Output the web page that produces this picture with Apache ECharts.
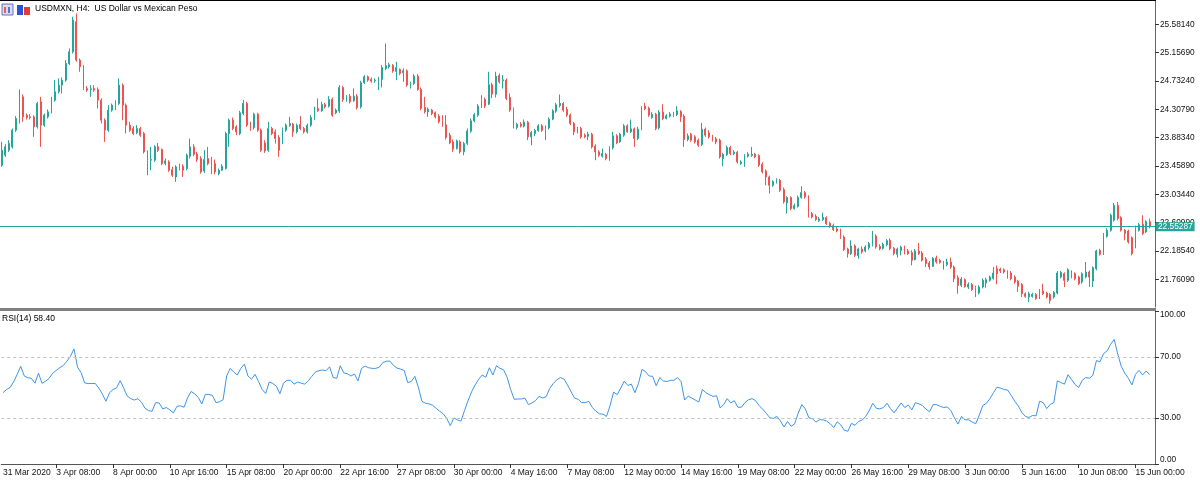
<!DOCTYPE html>
<html><head><meta charset="utf-8">
<script src="https://cdn.jsdelivr.net/npm/echarts@6/dist/echarts.min.js"></script>
<style>html,body{margin:0;padding:0;background:#fff}#c{width:1200px;height:483px}</style>
</head><body><div id="c"></div><script>
const opens=[
23.470,23.620,23.695,23.745,23.995,24.170,24.495,24.220,24.195,24.195,
24.045,24.420,24.070,24.195,24.270,24.445,24.570,24.670,24.745,24.995,
25.170,25.620,25.045,24.945,24.620,24.605,24.620,24.605,24.445,24.145,
23.995,24.295,24.335,24.395,24.670,24.370,24.070,24.020,23.955,24.020,
23.945,23.670,23.545,23.545,23.745,23.705,23.495,23.520,23.405,23.295,
23.420,23.455,23.420,23.605,23.745,23.635,23.570,23.385,23.570,23.505,
23.495,23.345,23.395,23.420,23.945,24.145,24.045,23.945,24.245,24.395,
24.085,24.035,24.235,23.995,23.805,23.695,24.020,23.970,23.885,23.805,
23.995,24.065,24.085,23.970,24.085,24.020,23.970,24.070,24.170,24.320,
24.285,24.380,24.355,24.455,24.255,24.285,24.635,24.445,24.505,24.435,
24.505,24.345,24.705,24.795,24.755,24.735,24.720,24.755,24.920,24.945,
24.965,24.875,24.905,24.855,24.885,24.655,24.695,24.805,24.605,24.335,
24.270,24.295,24.255,24.205,24.135,24.075,23.920,23.820,23.720,23.820,
23.670,23.795,23.980,24.135,24.220,24.345,24.455,24.385,24.675,24.535,
24.815,24.735,24.745,24.485,24.305,24.035,24.085,24.055,24.115,23.895,
23.945,23.990,24.060,24.005,24.030,24.160,24.280,24.365,24.395,24.305,
24.220,24.095,23.970,24.020,23.920,23.905,23.935,23.755,23.670,23.605,
23.635,23.565,23.730,23.910,23.820,23.920,24.060,23.970,24.015,23.870,
24.010,24.355,24.325,24.185,24.235,24.030,24.265,24.170,24.205,24.220,
24.230,24.275,24.205,23.855,23.935,23.895,23.845,23.780,24.010,23.955,
23.905,23.865,23.845,23.570,23.630,23.735,23.640,23.665,23.495,23.505,
23.605,23.615,23.635,23.615,23.485,23.385,23.295,23.170,23.215,23.245,
23.105,22.905,22.985,22.820,22.855,22.985,23.060,22.995,22.745,22.705,
22.640,22.655,22.685,22.600,22.565,22.515,22.495,22.395,22.215,22.145,
22.260,22.115,22.215,22.185,22.235,22.285,22.410,22.255,22.225,22.280,
22.345,22.225,22.135,22.195,22.245,22.185,22.160,22.055,22.185,22.155,
22.065,22.005,21.955,22.080,22.045,21.930,21.980,22.020,21.945,21.785,
21.670,21.755,21.645,21.685,21.635,21.555,21.645,21.705,21.745,21.775,
21.920,21.915,21.905,21.870,21.855,21.795,21.735,21.685,21.545,21.495,
21.505,21.535,21.485,21.585,21.555,21.535,21.495,21.555,21.795,21.845,
21.745,21.870,21.845,21.795,21.720,21.795,21.870,21.735,21.920,22.195,
22.145,22.405,22.495,22.645,22.870,22.685,22.495,22.485,22.385,22.245,
22.495,22.585,22.470,22.625];
const closes=[
23.695,23.745,23.795,23.995,24.170,24.520,24.195,24.185,24.185,24.045,
24.395,24.070,24.220,24.270,24.445,24.570,24.670,24.745,24.995,25.170,
25.645,25.045,24.945,24.620,24.595,24.615,24.595,24.445,24.145,23.995,
24.295,24.370,24.420,24.670,24.370,24.070,23.995,23.945,24.020,23.920,
23.670,23.545,23.555,23.745,23.695,23.495,23.535,23.395,23.320,23.445,
23.460,23.395,23.620,23.745,23.635,23.555,23.370,23.555,23.495,23.355,
23.370,23.395,23.455,23.945,24.145,24.020,23.970,24.255,24.395,24.070,
24.020,24.235,23.995,23.695,23.685,24.020,23.945,23.870,23.695,24.005,
24.070,24.095,23.970,24.070,24.020,23.970,24.070,24.185,24.310,24.285,
24.380,24.345,24.455,24.220,24.295,24.635,24.455,24.495,24.420,24.505,
24.335,24.705,24.795,24.745,24.730,24.745,24.765,24.935,24.960,24.975,
24.880,24.935,24.845,24.885,24.670,24.695,24.805,24.605,24.320,24.270,
24.310,24.245,24.195,24.120,24.070,23.885,23.805,23.710,23.835,23.670,
23.795,23.985,24.135,24.225,24.355,24.455,24.355,24.675,24.535,24.805,
24.720,24.750,24.470,24.295,24.045,24.085,24.055,24.115,23.895,23.960,
23.990,24.060,23.995,24.040,24.160,24.285,24.375,24.395,24.295,24.220,
24.095,23.970,24.015,23.895,23.895,23.935,23.745,23.670,23.620,23.645,
23.570,23.735,23.910,23.805,23.935,24.060,23.970,24.015,23.870,24.010,
24.335,24.315,24.220,24.235,24.020,24.265,24.170,24.210,24.235,24.245,
24.285,24.195,23.855,23.910,23.845,23.820,23.770,24.010,23.920,23.895,
23.845,23.820,23.595,23.635,23.735,23.645,23.665,23.520,23.520,23.610,
23.635,23.635,23.595,23.470,23.370,23.295,23.170,23.225,23.250,23.095,
22.920,22.985,22.820,22.865,22.985,23.060,22.995,22.745,22.695,22.655,
22.665,22.690,22.595,22.555,22.505,22.485,22.385,22.205,22.145,22.260,
22.120,22.215,22.170,22.245,22.295,22.410,22.245,22.220,22.285,22.340,
22.220,22.145,22.215,22.245,22.155,22.145,22.045,22.185,22.145,22.045,
21.995,21.945,22.075,22.020,22.015,22.015,22.020,21.945,21.770,21.670,
21.765,21.655,21.685,21.605,21.545,21.645,21.745,21.755,21.795,21.855,
21.845,21.885,21.870,21.795,21.770,21.720,21.655,21.545,21.505,21.545,
21.535,21.470,21.595,21.545,21.495,21.445,21.565,21.855,21.865,21.745,
21.905,21.795,21.770,21.695,21.845,21.870,21.795,21.935,22.185,22.135,
22.435,22.495,22.720,22.870,22.670,22.495,22.445,22.320,22.145,22.535,
22.580,22.445,22.625,22.55287];
const lows=[
23.445,23.595,23.670,23.720,23.970,24.095,24.120,24.155,24.155,23.895,
24.020,23.745,24.045,24.170,24.245,24.420,24.545,24.545,24.720,24.970,
25.145,25.020,24.870,24.595,24.570,24.495,24.570,24.320,24.095,23.820,
23.970,24.270,24.295,24.370,24.145,23.945,23.970,23.920,23.935,23.895,
23.645,23.320,23.395,23.520,23.670,23.470,23.470,23.370,23.295,23.220,
23.395,23.295,23.395,23.570,23.605,23.520,23.345,23.355,23.470,23.335,
23.335,23.320,23.385,23.405,23.745,23.995,23.920,23.920,24.220,24.045,
23.985,24.005,23.970,23.670,23.655,23.670,23.920,23.795,23.595,23.785,
23.970,24.045,23.895,23.945,23.995,23.945,23.945,24.045,24.145,24.270,
24.270,24.320,24.335,24.195,24.235,24.255,24.420,24.420,24.395,24.420,
24.305,24.320,24.685,24.720,24.705,24.705,24.595,24.635,24.895,24.920,
24.855,24.745,24.820,24.720,24.645,24.620,24.670,24.585,24.295,24.245,
24.195,24.220,24.170,24.095,24.045,23.855,23.785,23.670,23.705,23.645,
23.620,23.770,23.955,24.115,24.195,24.325,24.325,24.370,24.475,24.485,
24.695,24.620,24.445,24.270,24.020,24.005,24.035,24.035,23.845,23.770,
23.905,23.970,23.970,23.845,24.005,24.145,24.255,24.335,24.270,24.195,
24.070,23.920,23.945,23.870,23.875,23.845,23.720,23.545,23.595,23.585,
23.545,23.535,23.705,23.785,23.805,23.895,23.955,23.955,23.745,23.845,
23.995,24.295,24.195,24.165,23.995,24.005,24.145,24.155,24.185,24.195,
24.205,24.120,23.745,23.830,23.820,23.795,23.745,23.755,23.895,23.870,
23.825,23.785,23.570,23.455,23.605,23.620,23.620,23.495,23.475,23.445,
23.585,23.595,23.575,23.445,23.345,23.170,23.045,23.145,23.195,23.070,
22.895,22.745,22.795,22.805,22.835,22.970,22.970,22.685,22.675,22.635,
22.620,22.635,22.575,22.535,22.485,22.465,22.365,22.185,22.085,22.125,
22.095,22.070,22.145,22.165,22.205,22.255,22.220,22.195,22.205,22.255,
22.195,22.120,22.085,22.120,22.135,22.125,21.970,22.045,22.125,22.025,
21.945,21.905,21.945,21.995,21.995,21.905,21.955,21.920,21.720,21.545,
21.645,21.635,21.615,21.585,21.495,21.535,21.625,21.635,21.725,21.755,
21.685,21.855,21.845,21.770,21.745,21.695,21.570,21.495,21.485,21.420,
21.485,21.455,21.465,21.525,21.475,21.395,21.470,21.535,21.775,21.645,
21.720,21.775,21.745,21.675,21.695,21.775,21.645,21.645,21.895,22.115,
22.125,22.385,22.475,22.625,22.645,22.475,22.345,22.295,22.120,22.225,
22.475,22.425,22.455,22.525];
const highs=[
23.820,23.785,23.845,24.020,24.205,24.605,24.530,24.245,24.235,24.220,
24.420,24.495,24.245,24.305,24.495,24.745,24.770,24.785,25.045,25.220,
25.695,25.745,25.070,24.970,24.655,24.670,24.670,24.635,24.470,24.170,
24.370,24.395,24.445,24.770,24.695,24.395,24.120,24.055,24.070,24.045,
23.970,23.695,23.745,23.770,23.805,23.720,23.570,23.545,23.445,23.470,
23.495,23.485,23.645,23.870,23.785,23.670,23.605,23.695,23.745,23.595,
23.555,23.420,23.485,23.970,24.170,24.185,24.070,24.285,24.445,24.420,
24.120,24.255,24.255,24.020,23.845,24.120,24.045,24.005,23.920,24.035,
24.095,24.195,24.105,24.095,24.205,24.045,24.095,24.220,24.345,24.470,
24.420,24.405,24.505,24.485,24.320,24.670,24.655,24.520,24.535,24.620,
24.535,24.735,24.820,24.815,24.785,24.770,24.795,24.970,25.295,25.005,
24.985,25.020,24.920,24.920,24.905,24.720,24.835,24.835,24.635,24.495,
24.335,24.315,24.275,24.235,24.220,24.220,23.955,23.855,23.855,23.845,
23.820,24.020,24.170,24.255,24.385,24.520,24.485,24.870,24.705,24.870,
24.845,24.820,24.770,24.545,24.335,24.105,24.115,24.155,24.135,23.985,
24.015,24.085,24.085,24.065,24.185,24.310,24.405,24.530,24.415,24.345,
24.245,24.120,24.045,24.045,23.945,23.970,23.955,23.785,23.695,23.720,
23.655,23.755,23.970,23.935,23.955,24.085,24.085,24.155,24.035,24.045,
24.355,24.405,24.345,24.265,24.255,24.295,24.385,24.235,24.265,24.270,
24.355,24.295,24.235,23.945,23.955,23.920,23.870,24.105,24.035,23.995,
23.925,23.895,23.870,23.655,23.765,23.760,23.695,23.685,23.545,23.635,
23.665,23.745,23.655,23.635,23.515,23.405,23.315,23.245,23.275,23.265,
23.135,23.005,23.005,22.895,23.015,23.155,23.085,23.020,22.770,22.735,
22.695,22.760,22.705,22.625,22.595,22.545,22.520,22.420,22.235,22.345,
22.285,22.235,22.255,22.270,22.320,22.485,22.435,22.285,22.310,22.365,
22.375,22.245,22.235,22.265,22.265,22.215,22.195,22.215,22.305,22.185,
22.095,22.035,22.095,22.115,22.070,22.035,22.070,22.085,21.965,21.820,
21.795,21.775,21.715,21.705,21.665,21.670,21.775,21.785,21.815,21.945,
21.965,21.935,21.925,21.895,21.885,21.820,21.755,21.705,21.565,21.575,
21.560,21.555,21.615,21.695,21.575,21.555,21.585,21.885,21.885,21.865,
21.925,21.895,21.865,21.815,21.865,22.020,21.895,21.955,22.205,22.220,
22.455,22.525,22.745,22.905,22.920,22.705,22.515,22.505,22.405,22.565,
22.605,22.720,22.645,22.670];
const rsi=[
46.6,48.7,50.0,53.7,58.6,63.8,57.5,56.4,56.0,52.8,
59.3,52.8,54.1,56.0,59.3,61.2,62.9,64.4,67.2,70.4,
75.2,63.3,59.7,53.0,52.6,52.6,52.6,49.6,45.7,41.0,
46.6,48.7,49.8,54.5,49.6,44.4,42.7,41.8,42.7,40.3,
36.4,34.9,34.5,40.1,39.9,36.0,36.9,35.4,33.4,37.7,
38.0,37.1,43.3,47.4,45.9,43.5,39.2,45.5,45.5,44.8,
40.1,40.7,42.0,57.5,62.5,60.1,58.2,62.5,65.3,57.5,
55.4,58.6,53.9,48.7,46.1,53.6,52.6,50.9,45.9,52.8,
54.7,54.7,52.2,53.6,52.8,52.2,54.3,57.3,60.1,61.0,
61.4,61.0,63.5,56.5,56.0,64.2,59.5,59.0,57.5,58.8,
54.3,62.5,64.0,62.9,62.5,62.5,63.3,66.3,67.2,67.2,
64.4,62.7,62.0,61.2,53.2,53.9,57.3,50.2,41.0,39.7,
39.3,38.4,36.4,34.5,32.8,29.8,25.1,30.0,28.9,28.0,
34.9,41.4,47.2,51.7,55.4,58.2,56.7,62.9,58.2,64.2,
62.5,61.6,56.7,48.7,42.3,42.5,42.5,43.1,38.8,39.9,
41.4,44.2,43.1,44.0,49.4,52.6,55.0,56.5,55.6,51.7,
47.4,43.1,42.3,40.1,40.1,41.0,37.0,34.5,32.8,32.6,
31.1,38.2,47.0,45.3,49.6,54.1,51.3,52.2,46.6,52.6,
61.8,60.3,57.5,57.3,51.1,56.5,54.3,53.9,54.7,54.7,
56.5,53.9,41.8,44.4,43.1,41.8,40.5,48.7,46.6,45.3,
44.2,44.6,36.7,38.8,42.7,39.9,41.4,37.1,37.1,40.1,
42.0,42.7,41.4,38.2,35.8,33.2,30.2,29.8,31.1,28.1,
24.2,27.8,24.6,26.3,33.2,38.8,36.0,30.2,29.6,27.4,
28.9,28.9,28.1,26.3,23.8,27.6,25.5,22.0,21.4,26.6,
25.3,27.8,28.7,31.1,34.9,39.7,36.4,36.0,36.9,39.7,
36.2,33.4,36.7,39.9,36.9,38.6,35.4,40.1,39.3,38.2,
35.8,34.1,38.8,38.8,37.7,36.9,37.3,34.9,30.2,26.1,
31.1,28.9,28.9,27.4,26.3,31.9,38.2,39.7,42.7,46.6,
50.2,49.6,48.7,48.3,44.8,41.0,37.9,33.6,31.1,30.4,
31.7,31.5,41.0,40.1,36.2,39.0,40.1,54.3,53.2,52.2,
58.4,55.2,51.9,50.0,54.7,56.5,56.0,58.0,67.6,66.8,
72.1,73.9,78.2,81.4,71.9,63.8,59.3,56.0,51.7,58.6,
61.2,58.2,60.8,58.4];
const priceTicks=[21.76090,22.18540,22.60990,23.03440,23.45890,23.88340,24.30790,24.73240,25.15690,25.58140];
const rsiTicks=[0,30,70,100];
const rsiLevels=[70,30];
const lastPrice=22.55287;
const rsiLastText='RSI(14) 58.40';
const titleText='USDMXN, H4:  US Dollar vs Mexican Peso';
const firstLabel='31 Mar 2020';

const MON=['Jan','Feb','Mar','Apr','May','Jun','Jul','Aug','Sep','Oct','Nov','Dec'];
const categories=[];
let t=Date.UTC(2020,2,31,20);
while(categories.length<opens.length){
  const d=new Date(t); const wd=d.getUTCDay();
  if(wd!==0&&wd!==6){
    const hh=String(d.getUTCHours()).padStart(2,'0');
    categories.push(d.getUTCDate()+' '+MON[d.getUTCMonth()]+' '+hh+':00');
  }
  t+=4*3600*1000;
}
categories.push('');
const candles=opens.map((o,i)=>[o,closes[i],lows[i],highs[i]]);
const FONT='Liberation Sans, Arial, sans-serif';
const UP='#26a69a', DOWN='#ef5350';
const labelShown=(i)=> i===0 || (i>=15 && (i-15)%16===0 && i<opens.length);
const tickShown=(i)=> i>=15 && (i-15)%16===0 && i<opens.length;

const chart=echarts.init(document.getElementById('c'),null,{renderer:'canvas'});
chart.setOption({
  animation:false,
  backgroundColor:'#ffffff',
  grid:[
    {left:0,top:1,width:1155,height:306},
    {left:0,top:311,width:1155,height:153}
  ],
  xAxis:[
    {type:'category',gridIndex:0,data:categories,boundaryGap:true,
     axisLine:{show:false},axisTick:{show:false},axisLabel:{show:false},splitLine:{show:false}},
    {type:'category',gridIndex:1,data:categories,boundaryGap:true,
     axisLine:{show:true,lineStyle:{color:'#555',width:1}},
     axisTick:{show:true,alignWithLabel:true,length:4,interval:(i)=>tickShown(i),lineStyle:{color:'#333'}},
     axisLabel:{show:true,interval:(i)=>labelShown(i),align:'left',margin:4,
       fontFamily:FONT,fontSize:8.5,color:'#111',
       formatter:(v,i)=> i===0?firstLabel:v},
     splitLine:{show:false}}
  ],
  yAxis:[
    {type:'value',gridIndex:0,position:'right',min:21.3459,max:25.9305,scale:true,
     axisLine:{show:true,lineStyle:{color:'#666',width:1}},
     axisTick:{show:true,length:4,customValues:priceTicks,lineStyle:{color:'#333'}},
     axisLabel:{show:true,customValues:priceTicks,margin:5,fontFamily:FONT,fontSize:8.3,color:'#111',
       formatter:(v)=>Number(v).toFixed(5)},
     splitLine:{show:false}},
    {type:'value',gridIndex:1,position:'right',min:0,max:100,
     axisLine:{show:true,lineStyle:{color:'#666',width:1}},
     axisTick:{show:true,length:4,customValues:rsiTicks,lineStyle:{color:'#333'}},
     axisLabel:{show:true,customValues:rsiTicks,margin:5,fontFamily:FONT,fontSize:8.3,color:'#111',
       formatter:(v)=>{const s=Number(v).toFixed(2); if(v>=100) return '{t|'+s+'}'; if(v<=0) return '{b|'+s+'}'; return s;},
       rich:{t:{padding:[8,0,0,0],fontFamily:FONT,fontSize:8.3,color:'#111'},b:{padding:[0,0,8,0],fontFamily:FONT,fontSize:8.3,color:'#111'}}},
     splitLine:{show:false}}
  ],
  series:[
    {type:'candlestick',xAxisIndex:0,yAxisIndex:0,data:candles,barWidth:1.4,
     itemStyle:{color:UP,color0:DOWN,borderColor:UP,borderColor0:DOWN,borderWidth:1},
     markLine:{silent:true,symbol:'none',animation:false,
       data:[{yAxis:lastPrice}],
       lineStyle:{color:UP,type:'solid',width:1},
       label:{show:true,position:'end',distance:1,formatter:lastPrice.toFixed(5),
         backgroundColor:UP,color:'#ffffff',padding:[1,2,0,2],fontFamily:FONT,fontSize:8.3}}},
    {type:'line',xAxisIndex:1,yAxisIndex:1,data:rsi,symbol:'none',
     lineStyle:{color:'#3d95e6',width:1},
     markLine:{silent:true,symbol:'none',animation:false,
       data:rsiLevels.map(v=>({yAxis:v})),
       lineStyle:{color:'#c4c4c4',type:[3,3],width:1},label:{show:false}}}
  ],
  graphic:[
    {type:'rect',shape:{x:0,y:0,width:1156,height:1},style:{fill:'#000'},z:100},
    {type:'rect',shape:{x:0,y:308,width:1156,height:3},style:{fill:'#808080'},z:100},
    {type:'rect',shape:{x:2,y:4,width:11,height:11},style:{fill:'#d8dcf4',stroke:'#6a70b8',lineWidth:1},z:100},
    {type:'rect',shape:{x:4,y:7,width:2,height:6},style:{fill:'#e06060'},z:101},
    {type:'rect',shape:{x:8,y:7,width:2,height:6},style:{fill:'#6070d0'},z:101},
    {type:'rect',shape:{x:17,y:5,width:6,height:10},style:{fill:'#2f4fd8'},z:100},
    {type:'rect',shape:{x:24,y:7,width:6,height:8},style:{fill:'#e03a3a'},z:100},
    {type:'text',left:35,top:4,style:{text:titleText,font:'8.5px '+FONT,fill:'#000'},z:100},
    {type:'text',left:2,top:314,style:{text:rsiLastText,font:'8.5px '+FONT,fill:'#000'},z:100}
  ]
});
</script></body></html>
